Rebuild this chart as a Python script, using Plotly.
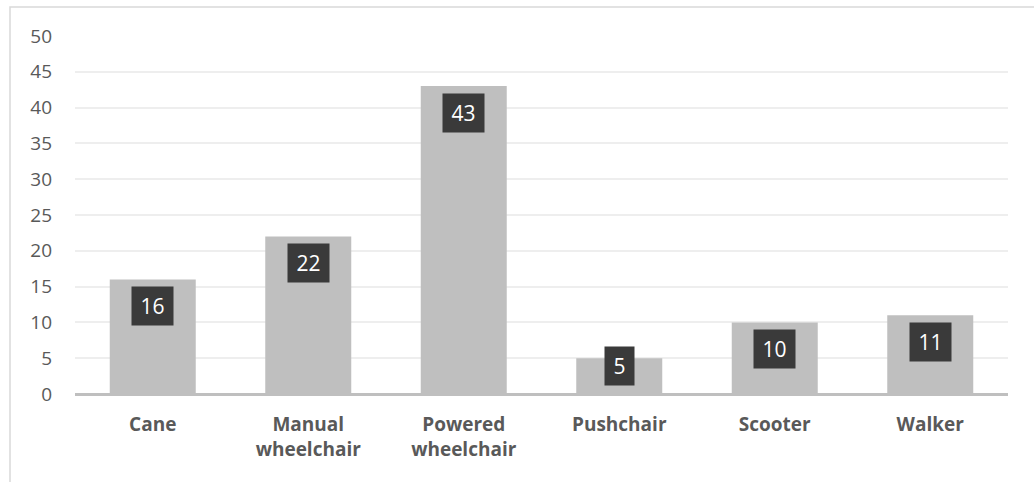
import plotly.graph_objects as go

# Mobility aid counts
categories = ["Cane", "Manual<br>wheelchair", "Powered<br>wheelchair", "Pushchair", "Scooter", "Walker"]
counts = [16, 22, 43, 5, 10, 11]
y_ticks = [0, 5, 10, 15, 20, 25, 30, 35, 40, 45, 50]

FONT = "Open Sans"
BAR = "#bfbfbf"
LABEL_BG = "#3a3a3a"
TEXT = "#595959"

H, W = 482, 1034
M_L, M_R, M_T, M_B = 75, 26, 36, 88
plot_h = H - M_T - M_B
y_max = 50
px_per_unit = plot_h / y_max

fig = go.Figure(
    go.Bar(
        x=categories,
        y=counts,
        marker=dict(color=BAR, line=dict(width=0)),
        width=0.553,
        hoverinfo="skip",
    )
)

# Value labels: dark boxes sitting just inside the top of each bar
annotations = []
box_h = 38
for cat, v in zip(categories, counts):
    txt = str(v)
    box_w = 29 if len(txt) == 1 else 41
    if v * px_per_unit < 7 + box_h + 8:
        ann_y, anchor, shift = 0, "bottom", 8
    else:
        ann_y, anchor, shift = v, "top", -7
    annotations.append(dict(
        x=cat, y=ann_y, xref="x", yref="y",
        text=txt, showarrow=False,
        yanchor=anchor, yshift=shift,
        bgcolor=LABEL_BG, borderpad=0,
        width=box_w, height=box_h,
        font=dict(family=FONT, size=21, color="white"),
    ))

# Outer chart border
shapes = [dict(
    type="rect", xref="paper", yref="paper",
    x0=(10 - M_L) / (W - M_L - M_R), x1=1.2,
    y0=-0.6, y1=(H - M_B - 7) / plot_h,
    line=dict(color="#d9d9d9", width=1.5), fillcolor="rgba(0,0,0,0)", layer="below",
)]

fig.update_layout(
    width=W, height=H,
    margin=dict(l=M_L, r=M_R, t=M_T, b=M_B),
    paper_bgcolor="white", plot_bgcolor="white",
    showlegend=False,
    bargap=0.447,
    annotations=annotations,
    shapes=shapes,
    xaxis=dict(
        showgrid=False, showline=False, zeroline=False,
        ticks="", ticklabelstandoff=17,
        tickfont=dict(family=FONT, size=19, color=TEXT, weight="bold"),
    ),
    yaxis=dict(
        range=[0, y_max], tickvals=y_ticks,
        showgrid=True, gridcolor="#eeeeee", gridwidth=1.5,
        zeroline=True, zerolinecolor="#bfbfbf", zerolinewidth=2.5,
        showline=False, ticks="", ticklabelstandoff=22,
        tickfont=dict(family=FONT, size=19, color=TEXT),
    ),
)

fig.write_html("out.html")
